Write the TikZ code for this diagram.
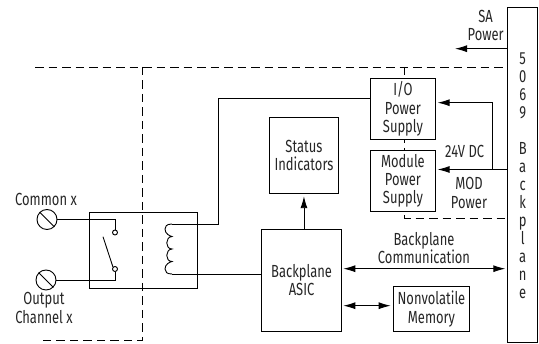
\documentclass[tikz,border=0pt]{standalone}
\usepackage{fontspec}
\setmainfont{Fira Sans}[FakeStretch=0.74]
\usetikzlibrary{arrows.meta}
\tikzset{
  x=1pt,y=-1pt,
  every node/.style={font=\fontsize{17.5}{18.3}\selectfont,inner sep=0pt,align=center,text=black!85},
  blockbox/.style={draw,line width=0.9pt,fill=white},
  wire/.style={draw,line width=0.9pt},
  dashline/.style={draw,line width=0.9pt,dash pattern=on 8.5pt off 5pt},
  onetip/.style={-{Latex[length=12pt,width=7pt]},shorten >=2pt},
  twotips/.style={{Latex[length=12pt,width=7pt]}-{Latex[length=12pt,width=7pt]},shorten >=2pt,shorten <=2pt},
}
\begin{document}
\begin{tikzpicture}
\useasboundingbox (0,0) rectangle (539,344);
% dashed boundary
\coordinate (dl) at (35,67);
\coordinate (dr) at (507,67);
\coordinate (dv) at (142.7,67);
\coordinate (dvb) at (142.7,340);
\coordinate (dbl) at (40,340);
\coordinate (dt) at (404.7,67);
\coordinate (dm) at (404.7,218);
\coordinate (dmr) at (507,218);
\path[dashline] (dl) -- (dr);
\path[dashline] (dv) -- (dvb) -- (dbl);
\path[dashline] (dt) -- (dm) -- (dmr);
% boxes
\node[blockbox,minimum width=30pt,minimum height=334.5pt,anchor=north west] (bp) at (507.3,7.5) {};
\node[anchor=north,text width=20pt] (bptext) at (522.7,52.5) {\fontsize{17.5}{18}\selectfont 5\\0\\6\\9\\[18pt]B\\a\\c\\k\\p\\l\\a\\n\\e};
\node[blockbox,minimum width=64.4pt,minimum height=61pt,anchor=north west] (io) at (370.3,78) {I/O\\Power\\Supply};
\node[blockbox,minimum width=64.4pt,minimum height=61pt,anchor=north west] (mod) at (370.3,150) {Module\\Power\\Supply};
\node[blockbox,minimum width=68.4pt,minimum height=76pt,anchor=north west] (status) at (269.3,117.3) {Status\\Indicators};
\node[blockbox,minimum width=80.3pt,minimum height=102.3pt,anchor=north west] (asic) at (261,228.7) {Backplane\\ASIC};
\node[blockbox,minimum width=76.6pt,minimum height=45.6pt,anchor=north west] (mem) at (392.7,285.7) {Nonvolatile\\Memory};
\node[draw,line width=0.9pt,minimum width=108.6pt,minimum height=76.3pt,anchor=north west] (relay) at (88.7,211.7) {};
% labels
\node (sa) at (485.7,25.5) {SA\\Power};
\node (v24) at (464.7,151.7) {24V DC};
\node (modp) at (469,193) {MOD\\Power};
\node (comm) at (424,248) {Backplane\\Communication};
\node (common) at (46,199) {Common x};
\node (output) at (44,308) {Output\\Channel x};
% arrows
\coordinate (saend) at (453,48.7);
\draw[wire,onetip] (bp.west|-saend) -- (saend);
\coordinate (p24) at (507.3,169.5);
\draw[wire,onetip] (p24) -- (mod.east|-p24);
\coordinate (j) at (492.7,169.5);
\coordinate (jt) at (492.7,102.7);
\draw[wire,onetip] (j) -- (jt) -- (io.east|-jt);
\draw[wire,onetip] (asic.north-|status.south) -- (status.south);
\coordinate (cm) at (341.3,268.7);
\draw[wire,twotips] (cm) -- (bp.west|-cm);
\coordinate (mm) at (341.3,305.7);
\draw[wire,twotips] (mm) -- (mem.west|-mm);
% screws
\node[draw,circle,line width=0.9pt,minimum size=20pt] (s1) at (47,219.5) {};
\node[draw,circle,line width=0.9pt,minimum size=20pt] (s2) at (46,280) {};
\draw[line width=0.9pt] (s1.north west) -- (s1.south east);
\draw[line width=0.9pt] (s2.north west) -- (s2.south east);
% contacts
\node[draw,circle,line width=0.9pt,minimum size=5pt,fill=white] (c1) at (115,232.5) {};
\node[draw,circle,line width=0.9pt,minimum size=5pt,fill=white] (c2) at (115,269) {};
\coordinate (blade) at (103,236.7);
\coordinate (w1) at (115,219.5);
\coordinate (w2) at (115,280);
\draw[wire] (s1.east) -- (w1) -- (c1.north);
\draw[wire] (s2.east) -- (w2) -- (c2.south);
\draw[wire] (c2.north west) -- (blade);
% coil
\coordinate (ct) at (172,224);
\coordinate (cb) at (172,274);
\draw[wire] (ct) .. controls (166,224) and (165,227) .. (165,229)
  .. controls (165,234) and (170,236) .. (172,236.5)
  .. controls (165,237) and (165,249) .. (172,249)
  .. controls (165,249.5) and (165,261.5) .. (172,261.5)
  .. controls (170,262) and (165,264) .. (165,269)
  .. controls (165,272) and (167,274) .. (cb);
\coordinate (iw) at (218,98.3);
\coordinate (iwb) at (218,224);
\draw[wire] (io.west|-iw) -- (iw) -- (iwb) -- (ct);
\draw[wire] (cb) -- (asic.west|-cb);
\end{tikzpicture}
\end{document}
